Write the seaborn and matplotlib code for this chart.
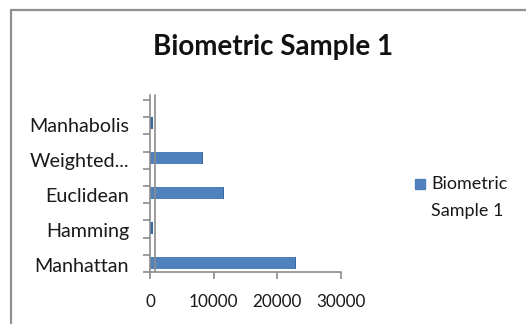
import matplotlib
matplotlib.use("Agg")
import matplotlib.pyplot as plt
import matplotlib.transforms as mtransforms
from matplotlib.lines import Line2D
import seaborn as sns
import pandas as pd
import numpy as np

# Distance measures and their scores
categories = ["Manhattan", "Hamming", "Euclidean", "Weighted...", "Manhabolis"]
values = [23000, 400, 11700, 8400, 400]
series_name = "Biometric Sample 1"
x_ticks = [0, 10000, 20000, 30000]
x_tick_labels = ["0", "10000", "20000", "30000"]

sns.set_theme(style="white")
plt.rcParams["font.family"] = ["Lato", "DejaVu Sans"]

W, H = 526, 324
fig = plt.figure(figsize=(W / 100, H / 100), dpi=100)
fig.patch.set_facecolor("white")

ax_left, ax_right, ax_bottom, ax_top = 150, 341, 272, 95
ax = fig.add_axes([ax_left / W, 1 - ax_bottom / H,
                   (ax_right - ax_left) / W, (ax_bottom - ax_top) / H])

df = pd.DataFrame({"pos": np.arange(len(categories)), "value": values,
                   "series": series_name})

bar_color = "#4F81BD"
sns.barplot(data=df, x="value", y="pos", orient="h", native_scale=True,
            color=bar_color, saturation=1, linewidth=0,
            width=0.34, ax=ax, label=series_name, legend=False)

# darker end caps give the bars a little depth
for p in list(ax.patches):
    x0, y0 = p.get_x(), p.get_y()
    w, h = p.get_width(), p.get_height()
    ax.add_patch(plt.Rectangle((x0 + w - 280, y0), 280, h,
                               color="#3A66A0", lw=0, zorder=p.get_zorder() + 0.1))

px_per_unit = 35.0
cat0_px = 263
ylo = -(ax_bottom - cat0_px) / px_per_unit
yhi = (len(categories) - 1) + (cat0_px - 35 * 4 - ax_top) / px_per_unit
ax.set_ylim(ylo, yhi)
ax.set_xlim(0, 30000)

axis_gray = "#8C8C8C"
for side in ["top", "right"]:
    ax.spines[side].set_visible(False)
for side in ["left", "bottom"]:
    ax.spines[side].set_color(axis_gray)
    ax.spines[side].set_linewidth(1.2)

# back wall line of the category axis
off = mtransforms.offset_copy(ax.transAxes, fig=fig, x=5 * 72 / 100, y=0, units="points")
ax.add_line(Line2D([0, 0], [0, 1], transform=off, color=axis_gray, lw=1.2, clip_on=False))
ax.add_line(Line2D([0, 0], [1, 1], transform=ax.transAxes, color=axis_gray, lw=1.2, clip_on=False))

ax.set_xticks(x_ticks)
ax.set_xticklabels(x_tick_labels)
ax.tick_params(axis="x", which="major", direction="out", length=5, width=1.2,
               color=axis_gray, labelsize=12.3, pad=11, labelcolor="#1a1a1a", bottom=True)

label_pos = [i - 2 / px_per_unit for i in range(len(categories))]
ax.set_yticks(label_pos)
ax.set_yticklabels(categories)
ax.tick_params(axis="y", which="major", length=0, pad=15, labelsize=14.2,
               labelcolor="#1a1a1a")
minor = [ylo + k * (17.2 / px_per_unit) for k in range(11)]
ax.set_yticks(minor, minor=True)
ax.tick_params(axis="y", which="minor", direction="out", length=5, width=1.2,
               color=axis_gray, left=True)
ax.set_xlabel("")
ax.set_ylabel("")
ax.grid(False)

fig.text(273 / W, 1 - 47 / H, "Biometric Sample 1", ha="center", va="center",
         fontsize=20, fontweight="bold", color="#111111")

# legend
fig.patches.append(plt.Rectangle((415 / W, 1 - 189 / H), 10 / W, 10 / H,
                                 transform=fig.transFigure, color=bar_color))
fig.text(431 / W, 1 - 184 / H, "Biometric", ha="left", va="center",
         fontsize=13, color="#1a1a1a")
fig.text(431 / W, 1 - 211 / H, "Sample 1", ha="left", va="center",
         fontsize=13, color="#1a1a1a")

# chart area border
border = "#909090"
fig.add_artist(Line2D([10.5 / W, 1], [1 - 10 / H, 1 - 10 / H],
                      transform=fig.transFigure, color=border, lw=1.6))
fig.add_artist(Line2D([10.5 / W, 10.5 / W], [0, 1 - 10 / H],
                      transform=fig.transFigure, color=border, lw=1.6))

fig.savefig("out.png", dpi=100, facecolor="white")
